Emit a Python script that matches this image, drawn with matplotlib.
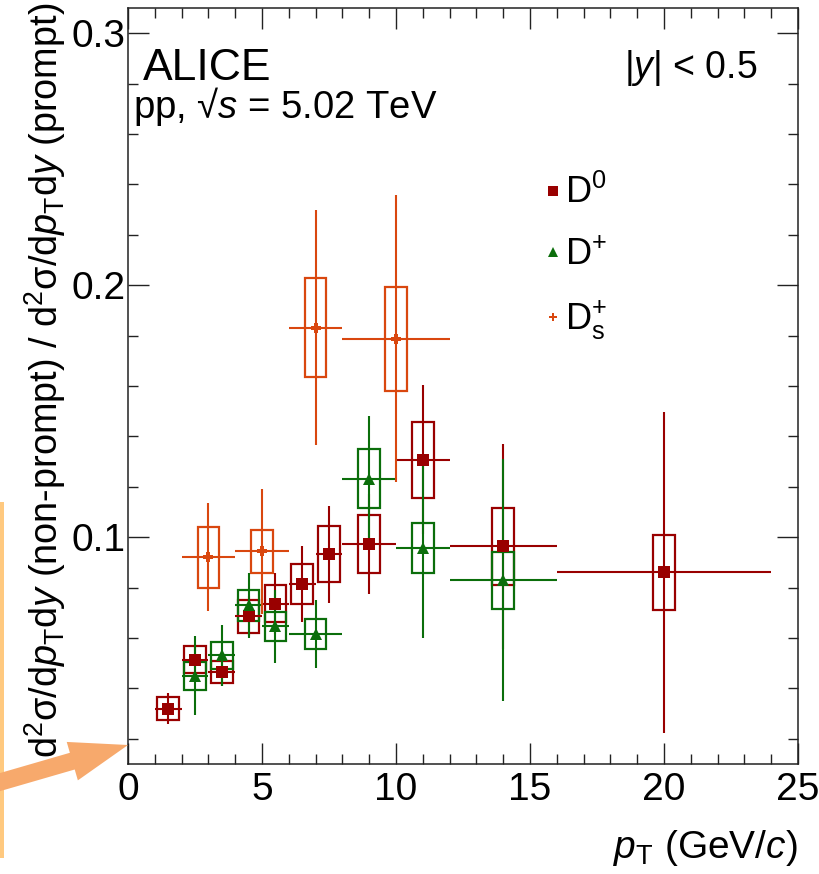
import matplotlib
matplotlib.use('Agg')
import matplotlib.pyplot as plt
from matplotlib.lines import Line2D
from matplotlib.patches import Polygon, Rectangle
from matplotlib.ticker import MultipleLocator, FixedLocator, FixedFormatter
from matplotlib.transforms import IdentityTransform
import numpy as np

plt.rcParams['font.family'] = ['Liberation Sans', 'DejaVu Sans']
plt.rcParams['mathtext.fontset'] = 'custom'
plt.rcParams['mathtext.rm'] = 'Liberation Sans'
plt.rcParams['mathtext.it'] = 'Liberation Sans:italic'
plt.rcParams['mathtext.bf'] = 'Liberation Sans:bold'

# ---------------- data ----------------
pt_d0 = [1.5, 2.5, 3.5, 4.5, 5.5, 6.5, 7.5, 9, 11, 14, 20]
xerr_d0 = [0.5, 0.5, 0.5, 0.5, 0.5, 0.5, 0.5, 1, 1, 2, 4]
y_d0 = [0.0320, 0.0514, 0.0465, 0.0686, 0.0736, 0.0814, 0.0932, 0.0973, 0.1307, 0.0964, 0.0860]
stat_d0 = [0.0063, 0.0060, 0.0056, 0.0080, 0.0120, 0.0152, 0.0192, 0.0198, 0.0295, 0.0407, 0.0638]
syst_d0 = [0.0045, 0.0054, 0.0044, 0.0066, 0.0074, 0.0081, 0.0111, 0.0114, 0.0151, 0.0152, 0.0149]

pt_dp = [2.5, 3.5, 4.5, 5.5, 7, 9, 11, 14]
xerr_dp = [0.5, 0.5, 0.5, 0.5, 1, 1, 1, 2]
y_dp = [0.0450, 0.0531, 0.0729, 0.0646, 0.0616, 0.1232, 0.0957, 0.0829]
stat_dp = [0.0157, 0.0122, 0.0130, 0.0144, 0.0136, 0.0248, 0.0357, 0.0480]
syst_dp = [0.0055, 0.0055, 0.0060, 0.0056, 0.0061, 0.0118, 0.0101, 0.0113]

pt_ds = [3, 5, 7, 10]
xerr_ds = [1, 1, 1, 2]
y_ds = [0.0921, 0.0944, 0.1832, 0.1788]
stat_ds = [0.0215, 0.0247, 0.0466, 0.0569]
syst_ds = [0.0121, 0.0085, 0.0197, 0.0206]

labels = ['D$^{0}$', 'D$^{+}$', 'D$_{\\rm s}^{+}$']
xticks = [0, 5, 10, 15, 20, 25]
yticks = [0.1, 0.2, 0.3]

# ---------------- figure ----------------
W, H = 819, 874
fig = plt.figure(figsize=(W / 100, H / 100), dpi=100)
ax = fig.add_axes([128 / W, 1 - 764 / H, (798 - 128) / W, (764 - 8) / H])

c_d0 = '#990000'
c_dp = '#0b6e0b'
c_ds = '#d9470f'

series = [
    (pt_d0, xerr_d0, y_d0, stat_d0, syst_d0, c_d0, 's', 8.0),
    (pt_dp, xerr_dp, y_dp, stat_dp, syst_dp, c_dp, '^', 8.0),
    (pt_ds, xerr_ds, y_ds, stat_ds, syst_ds, c_ds, 'P', 6.5),
]
for pt, xe, yv, st, sy, c, m, ms in series:
    pt = np.asarray(pt, float); yv = np.asarray(yv, float); sy = np.asarray(sy, float)
    ax.bar(pt, 2 * sy, width=0.8, bottom=yv - sy, fill=False, edgecolor=c,
           linewidth=1.6, zorder=2)
    ax.errorbar(pt, yv, xerr=xe, yerr=st, fmt=m, color=c, ms=ms, mew=0,
                elinewidth=1.5, capsize=0, zorder=3)

ax.set_xlim(0, 25)
ax.set_ylim(0.01, 0.31)
ax.xaxis.set_major_locator(FixedLocator(xticks))
ax.xaxis.set_major_formatter(FixedFormatter([str(v) for v in xticks]))
ax.xaxis.set_minor_locator(MultipleLocator(1))
ax.yaxis.set_major_locator(FixedLocator(yticks))
ax.yaxis.set_major_formatter(FixedFormatter(['%.1f' % v for v in yticks]))
ax.yaxis.set_minor_locator(MultipleLocator(0.02))
ax.tick_params(which='both', direction='in', top=True, right=True,
               labelsize=28, width=1.0, color='#222222')
ax.tick_params(which='major', length=15)
ax.tick_params(which='minor', length=7.5)
ax.tick_params(axis='x', which='major', pad=6)
ax.tick_params(axis='y', which='major', pad=2)
for s in ax.spines.values():
    s.set_linewidth(1.1)
    s.set_color('#222222')

# legend
handles = [Line2D([], [], ls='none', marker='s', color=c_d0, ms=7, mew=0),
           Line2D([], [], ls='none', marker='^', color=c_dp, ms=7, mew=0),
           Line2D([], [], ls='none', marker='P', color=c_ds, ms=6, mew=0)]
ax.legend(handles, labels, loc='upper left', bbox_to_anchor=(542 / W, 1 - 175 / H),
          bbox_transform=fig.transFigure, frameon=False, fontsize=26,
          handlelength=0.6, handletextpad=0.05, labelspacing=0.72, borderaxespad=0,
          borderpad=0)

# texts
fig.text(143 / W, 1 - 80 / H, 'ALICE', fontsize=32, va='baseline', ha='left')
fig.text(133 / W, 1 - 118 / H, 'pp, \u221a$s$ = 5.02 TeV', fontsize=27.5, va='baseline', ha='left')
fig.text(757 / W, 1 - 78 / H, '|$y$| < 0.5', fontsize=27, va='baseline', ha='right')
fig.text(798 / W, 1 - 848 / H, '$p_{\\rm T}$ (GeV/$c$)', fontsize=28, va='center', ha='right')
fig.text(45 / W, 1 - 3 / H,
         'd$^{2}$\u03c3/d$p_{\\rm T}$d$y$ (non-prompt) / d$^{2}$\u03c3/d$p_{\\rm T}$d$y$ (prompt)',
         fontsize=27.3, rotation=90, va='top', ha='center')

# annotation overlay (vertical line + arrow)
def P(x, y):
    return (x, H - y)

fig.patches.append(Rectangle(P(0, 858), 4, 356, transform=IdentityTransform(),
                             facecolor='#ffc97f', edgecolor='none', figure=fig))
tip = np.array([128.0, 745.0])
tail = np.array([-10.0, 785.0])
d = tip - tail
u = d / np.hypot(*d)
n = np.array([-u[1], u[0]])
base = tip - 58 * u
hw, sw = 20.0, 8.7
pts = [tail + n * sw, base + n * sw, base + n * hw, tip, base - n * hw, base - n * sw, tail - n * sw]
fig.patches.append(Polygon([P(*p) for p in pts], closed=True, transform=IdentityTransform(),
                           facecolor='#f7a96c', edgecolor='none', figure=fig))

fig.savefig('out.png', dpi=100)
